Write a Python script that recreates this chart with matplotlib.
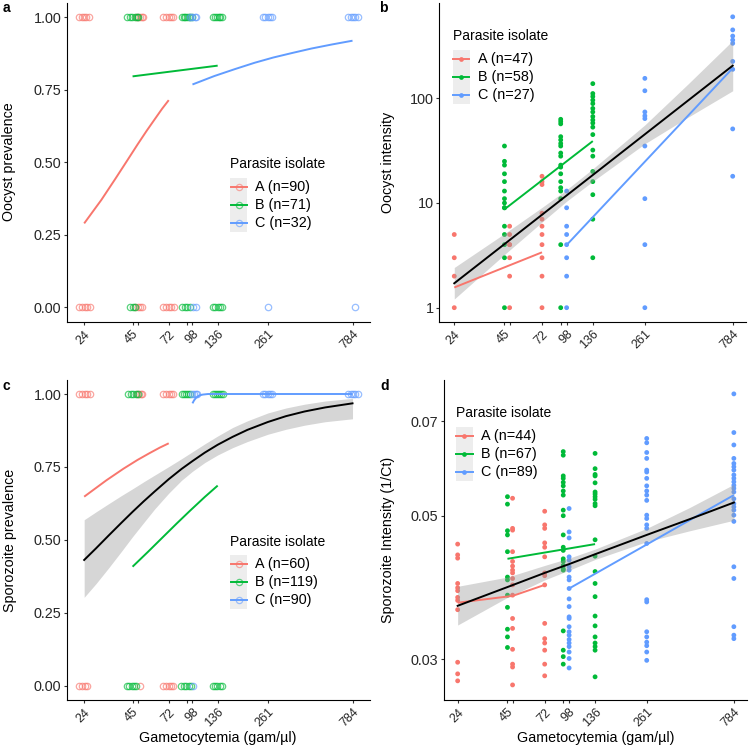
import matplotlib
matplotlib.use("Agg")
import matplotlib.pyplot as plt
from matplotlib.lines import Line2D
from matplotlib.patches import Rectangle
from matplotlib.ticker import NullLocator, FixedLocator, FixedFormatter

plt.rcParams['font.family'] = ['Liberation Sans', 'DejaVu Sans']

COL = {'A': '#F8766D', 'B': '#00BA38', 'C': '#619CFF'}

# x ticks (gametocytemia)
xtick_vals = [24, 45, 48, 72, 91, 98, 136, 261, 784]
xtick_labs = ['24', '45', '', '72', '', '98', '136', '261', '784']

# ---------- panel a: oocyst prevalence (jittered 0/1 observations) ----------
a_pts = {
    'A': {1: [22.5, 23.2, 24.0, 24.7, 25.4, 47.2, 48.4, 49.6, 50.8, 51.8, 67.2, 69.5, 71.8, 74.0, 76.5],
          0: [22.4, 23.3, 24.2, 25.0, 25.8, 46.5, 48.0, 49.5, 51.0, 67.0, 69.5, 72.0, 74.5, 76.8]},
    'B': {1: [41.8, 43.3, 44.8, 46.2, 47.5, 48.6, 85.4, 87.5, 89.5, 91.5, 93.5, 95.5, 97.2,
              127.6, 131, 134.5, 138, 141, 143.5],
          0: [43.5, 45.0, 46.5, 85.5, 88.5, 91.5, 94.5, 128, 132, 136, 140, 143]},
    'C': {1: [95, 98, 101, 103, 246, 253, 260, 268, 275, 743, 765, 790, 815, 846],
          0: [99, 102, 261, 812]},
}
a_fit = {
    'A': ([24, 30, 36, 42, 48, 54, 60, 66, 72],
          [0.290, 0.371, 0.444, 0.507, 0.562, 0.609, 0.649, 0.685, 0.715]),
    'B': ([45, 136], [0.797, 0.834]),
    'C': ([98, 130, 170, 220, 280, 360, 460, 600, 784],
          [0.769, 0.798, 0.822, 0.844, 0.862, 0.878, 0.893, 0.907, 0.920]),
}
a_labels = ['A (n=90)', 'B (n=71)', 'C (n=32)']

# ---------- panel b: oocyst intensity ----------
b_pts = {
    'A': {24: [5, 3, 2, 1], 48: [6, 5, 4, 4, 3, 2, 1],
          72: [18, 16, 15, 8, 7, 6, 5, 4, 3, 2, 1]},
    'B': {45: [35, 25, 23, 19, 16, 13, 11, 10, 9, 9, 6, 5, 4, 3, 1],
          91: [63, 60, 57, 43, 40, 37, 35, 30, 28, 23, 22, 19, 16, 14, 13, 11, 4, 1],
          136: [138, 111, 104, 96, 89, 80, 74, 67, 62, 58, 53, 45, 32, 28, 20, 16, 12, 7, 3]},
    'C': {98: [13, 9, 6, 5, 4, 3, 2, 1], 261: [155, 118, 74, 68, 64, 35, 11, 4, 1],
          784: [600, 450, 393, 360, 335, 225, 189, 51, 18]},
}
b_fit = {
    'A': ([24, 72], [1.56, 3.38]),
    'B': ([45, 136], [8.7, 39.0]),
    'C': ([98, 784], [3.97, 194.0]),
}
b_all_x = [24, 45, 72, 98, 136, 261, 450, 784]
b_all_y = [1.71, 4.05, 7.72, 11.8, 18.5, 45.3, 95.7, 205]
b_all_lo = [1.21, 3.22, 6.57, 10.4, 16.1, 36.8, 66.2, 118]
b_all_hi = [2.42, 5.10, 9.07, 13.4, 21.2, 55.7, 138, 356]
b_labels = ['A (n=47)', 'B (n=58)', 'C (n=27)']

# ---------- panel c: sporozoite prevalence ----------
c_pts = {
    'A': {1: [22.5, 23.3, 24.2, 25.0, 25.8, 47.5, 48.7, 50.0, 51.2, 67.2, 69.5, 71.8, 74.0, 76.5],
          0: [22.5, 23.3, 24.2, 25.0, 49.7, 66.8, 69.3, 71.8, 74.3, 76.5]},
    'B': {1: [42.5, 44.0, 45.5, 47.0, 48.4, 85.0, 87.5, 90.0, 92.5, 95.0, 127.6, 131, 134.5, 138, 141.5, 145],
          0: [41.8, 43.2, 44.6, 46.0, 47.2, 84.8, 87.5, 90.5, 93.5, 96.0, 127.6, 131.5, 135.5, 139.5, 144]},
    'C': {1: [97.2, 99.5, 102, 104, 246, 253, 260, 268, 275, 743, 765, 790, 815, 846],
          0: [98.5]},
}
c_fit = {
    'A': ([24, 32, 40, 48, 56, 64, 72], [0.648, 0.704, 0.744, 0.774, 0.797, 0.816, 0.831]),
    'B': ([45, 55, 65, 80, 95, 115, 136], [0.408, 0.459, 0.5025, 0.5565, 0.600, 0.647, 0.686]),
    'C': ([98, 100, 103, 107, 112, 120, 784], [0.968, 0.978, 0.988, 0.995, 0.998, 1.0, 1.0]),
}
c_all_x = [24, 28, 33, 39, 45, 52, 60, 72, 85, 98, 115, 136, 165, 200, 261, 330, 420, 550, 784]
c_all_y = [0.431, 0.471, 0.515, 0.559, 0.596, 0.632, 0.666, 0.708, 0.743, 0.770, 0.799, 0.826,
           0.853, 0.877, 0.904, 0.924, 0.940, 0.954, 0.968]
c_all_lo = [0.303, 0.350, 0.404, 0.461, 0.511, 0.559, 0.606, 0.660, 0.704, 0.735, 0.765, 0.791,
            0.816, 0.837, 0.862, 0.879, 0.893, 0.905, 0.915]
c_all_hi = [0.569, 0.596, 0.624, 0.652, 0.675, 0.699, 0.722, 0.751, 0.778, 0.802, 0.829, 0.856,
            0.885, 0.908, 0.935, 0.952, 0.965, 0.976, 0.985]
c_labels = ['A (n=60)', 'B (n=119)', 'C (n=90)']

# ---------- panel d: sporozoite intensity ----------
d_pts = {
    'A': {24: [0.0452, 0.0435, 0.0430, 0.0393, 0.0387, 0.0383, 0.0374, 0.0370, 0.0358, 0.0297, 0.0285, 0.0278],
          48: [0.0532, 0.0478, 0.0475, 0.0440, 0.0425, 0.0418, 0.0412, 0.0408, 0.0400, 0.0391, 0.0377,
               0.0347, 0.0335, 0.0311, 0.0295, 0.0292, 0.0274],
          72: [0.0508, 0.0484, 0.0478, 0.0454, 0.0447, 0.0432, 0.0408, 0.0404, 0.0391, 0.0341, 0.0323,
               0.0318, 0.0310, 0.0295, 0.0283]},
    'B': {45: [0.0535, 0.0521, 0.0474, 0.0467, 0.0440, 0.0402, 0.0398, 0.0377, 0.0361, 0.0334, 0.0325, 0.0313],
          91: [0.0628, 0.0620, 0.0576, 0.0571, 0.0563, 0.0556, 0.0546, 0.0538, 0.0510, 0.0500, 0.0467,
               0.0447, 0.0442, 0.0429, 0.0425, 0.0419, 0.0414, 0.0412, 0.0332, 0.0310, 0.0303, 0.0295],
          136: [0.0624, 0.0591, 0.0579, 0.0576, 0.0562, 0.0544, 0.0540, 0.0535, 0.0530, 0.0522, 0.0518,
                0.0459, 0.0433, 0.0410, 0.0393, 0.0375, 0.0350, 0.0338, 0.0325, 0.0318, 0.0314, 0.0310, 0.0282]},
    'C': {98: [0.0513, 0.0472, 0.0462, 0.0432, 0.0427, 0.0417, 0.0412, 0.0402, 0.0398, 0.0386, 0.0372,
               0.0362, 0.0349, 0.0347, 0.0337, 0.0331, 0.0327, 0.0322, 0.0318, 0.0314, 0.0308, 0.0301, 0.0291],
          261: [0.0658, 0.0648, 0.0626, 0.0613, 0.0588, 0.0584, 0.0571, 0.0556, 0.0546, 0.0538, 0.0528,
                0.0501, 0.0495, 0.0484, 0.0478, 0.0453, 0.0371, 0.0368, 0.0331, 0.0325, 0.0319, 0.0315,
                0.0308, 0.0299],
          784: [0.0771, 0.0672, 0.0643, 0.0613, 0.0602, 0.0595, 0.0588, 0.0578, 0.0571, 0.0564, 0.0557,
                0.0551, 0.0544, 0.0531, 0.0522, 0.0516, 0.0510, 0.0501, 0.0490, 0.0417, 0.0400, 0.0337,
                0.0327, 0.0323]},
}
d_fit = {
    'A': ([24, 48, 72], [0.0367, 0.0376, 0.0391]),
    'B': ([45, 136], [0.0429, 0.0452]),
    'C': ([98, 784], [0.0386, 0.0538]),
}
d_all_x = [24, 45, 72, 98, 136, 261, 450, 784]
d_all_y = [0.0363, 0.0388, 0.0408, 0.0421, 0.0436, 0.0467, 0.0494, 0.0524]
d_all_lo = [0.0339, 0.0374, 0.0398, 0.0412, 0.0428, 0.0456, 0.0474, 0.0492]
d_all_hi = [0.0389, 0.0402, 0.0419, 0.0430, 0.0444, 0.0478, 0.0515, 0.0559]
d_labels = ['A (n=44)', 'B (n=67)', 'C (n=89)']

# ================= drawing =================
W, H = 750, 748
fig = plt.figure(figsize=(W / 100, H / 100), dpi=100)


def fx(px):
    return px / W


def fy(py):
    return 1 - py / H


def make_ax(l, t, r, b):
    return fig.add_axes([fx(l), fy(b), (r - l) / W, (b - t) / H])


TXT = '#262626'
AXIS_TITLE = 10.3


def style(ax, xlim):
    ax.set_xscale('log')
    ax.set_xlim(*xlim)
    ax.xaxis.set_major_locator(FixedLocator(xtick_vals))
    ax.xaxis.set_major_formatter(FixedFormatter(xtick_labs))
    ax.xaxis.set_minor_locator(NullLocator())
    for s in ['top', 'right']:
        ax.spines[s].set_visible(False)
    for s in ['left', 'bottom']:
        ax.spines[s].set_color('black')
        ax.spines[s].set_linewidth(0.8)
    ax.tick_params(axis='both', direction='out', length=2.5, width=0.8,
                   color='#333333', labelcolor=TXT, pad=1.5)
    ax.tick_params(axis='y', labelsize=10.4)
    ax.tick_params(axis='x', labelsize=9, pad=2)
    for lbl in ax.get_xticklabels():
        lbl.set_rotation(45)
        lbl.set_ha('right')
        lbl.set_va('top')
        lbl.set_rotation_mode('anchor')


def legend(x0, yt, labels, kind):
    fig.text(fx(x0), fy(yt), 'Parasite isolate', ha='left', va='center', fontsize=10, color='black')
    box_top = yt + 13.5
    fig.add_artist(Rectangle((fx(x0), fy(box_top + 54)), 17.3 / W, 54 / H,
                             transform=fig.transFigure, facecolor='#EDEDED', edgecolor='none', zorder=4))
    for i, (g, lab) in enumerate(zip(['A', 'B', 'C'], labels)):
        y = box_top + 9 + 18 * i
        fig.add_artist(Line2D([fx(x0 + 0.5), fx(x0 + 16.8)], [fy(y), fy(y)], color=COL[g], lw=1.4,
                              transform=fig.transFigure, zorder=5))
        if kind == 'open':
            fig.add_artist(Line2D([fx(x0 + 8.65)], [fy(y)], marker='o', ms=4.5, mfc='none', mec=COL[g],
                                  mew=0.9, alpha=0.6, transform=fig.transFigure, zorder=6))
        else:
            fig.add_artist(Line2D([fx(x0 + 8.65)], [fy(y)], marker='o', ms=3.4, mfc=COL[g], mec='none',
                                  transform=fig.transFigure, zorder=6))
        fig.text(fx(x0 + 25), fy(y), lab, ha='left', va='center', fontsize=10.4, color='black', zorder=6)


def prevalence_points(ax, pts):
    for g in ['A', 'B', 'C']:
        for val, xs in pts[g].items():
            ax.plot(xs, [val] * len(xs), 'o', ms=4.6, mfc='none', mec=COL[g], mew=0.9, alpha=0.65,
                    zorder=2)


def intensity_points(ax, pts):
    for g in ['A', 'B', 'C']:
        for xv, ys in pts[g].items():
            ax.scatter([xv] * len(ys), ys, s=12, color=COL[g], edgecolors='none', zorder=2)


def fits(ax, fitd):
    for g in ['A', 'B', 'C']:
        xs, ys = fitd[g]
        ax.plot(xs, ys, color=COL[g], lw=1.4, zorder=4, solid_capstyle='butt')


def overall(ax, x, y, lo, hi):
    ax.fill_between(x, lo, hi, color='#999999', alpha=0.4, lw=0, zorder=3)
    ax.plot(x, y, color='black', lw=1.4, zorder=5)


# panel a
axa = make_ax(67, 3, 370, 322)
prevalence_points(axa, a_pts)
fits(axa, a_fit)
axa.set_ylim(-0.05, 1.05)
axa.set_yticks([0, 0.25, 0.5, 0.75, 1.0])
axa.set_yticklabels(['0.00', '0.25', '0.50', '0.75', '1.00'])
style(axa, (19.2, 984))

# panel b
axb = make_ax(439.3, 3, 746, 322)
intensity_points(axb, b_pts)
overall(axb, b_all_x, b_all_y, b_all_lo, b_all_hi)
fits(axb, b_fit)
axb.set_yscale('log')
axb.set_ylim(0.73, 813)
axb.yaxis.set_major_locator(FixedLocator([1, 10, 100]))
axb.yaxis.set_major_formatter(FixedFormatter(['1', '10', '100']))
axb.yaxis.set_minor_locator(NullLocator())
style(axb, (19.9, 926))

# panel c
axc = make_ax(67, 380, 370, 700)
prevalence_points(axc, c_pts)
overall(axc, c_all_x, c_all_y, c_all_lo, c_all_hi)
fits(axc, c_fit)
axc.set_ylim(-0.049, 1.048)
axc.set_yticks([0, 0.25, 0.5, 0.75, 1.0])
axc.set_yticklabels(['0.00', '0.25', '0.50', '0.75', '1.00'])
style(axc, (19.2, 984))

# panel d
axd = make_ax(444, 380, 746.7, 700)
intensity_points(axd, d_pts)
overall(axd, d_all_x, d_all_y, d_all_lo, d_all_hi)
fits(axd, d_fit)
axd.set_yscale('log')
axd.set_ylim(0.02597, 0.081)
axd.yaxis.set_major_locator(FixedLocator([0.03, 0.05, 0.07]))
axd.yaxis.set_major_formatter(FixedFormatter(['0.03', '0.05', '0.07']))
axd.yaxis.set_minor_locator(NullLocator())
style(axd, (20.2, 922))

# legends
legend(230, 164.3, a_labels, 'open')
legend(452.5, 36, b_labels, 'dot')
legend(230, 541.7, c_labels, 'open')
legend(455.7, 413.3, d_labels, 'dot')

# axis titles
fig.text(fx(9.5), fy(162), 'Oocyst prevalence', rotation=90, ha='center', va='center', fontsize=AXIS_TITLE)
fig.text(fx(388), fy(162), 'Oocyst intensity', rotation=90, ha='center', va='center', fontsize=AXIS_TITLE)
fig.text(fx(9.7), fy(540), 'Sporozoite prevalence', rotation=90, ha='center', va='center', fontsize=AXIS_TITLE)
fig.text(fx(388), fy(540), 'Sporozoite Intensity (1/Ct)', rotation=90, ha='center', va='center',
         fontsize=AXIS_TITLE)
fig.text(fx(217.5), fy(737.7), 'Gametocytemia (gam/µl)', ha='center', va='center', fontsize=AXIS_TITLE)
fig.text(fx(595.8), fy(737.7), 'Gametocytemia (gam/µl)', ha='center', va='center', fontsize=AXIS_TITLE)

# panel letters
for lab, x, y in [('a', 6, 8.3), ('b', 383.3, 8.3), ('c', 6, 385.7), ('d', 384.3, 385.7)]:
    fig.text(fx(x), fy(y), lab, ha='center', va='center', fontsize=10, fontweight='bold')

fig.savefig('out.png', dpi=100)
